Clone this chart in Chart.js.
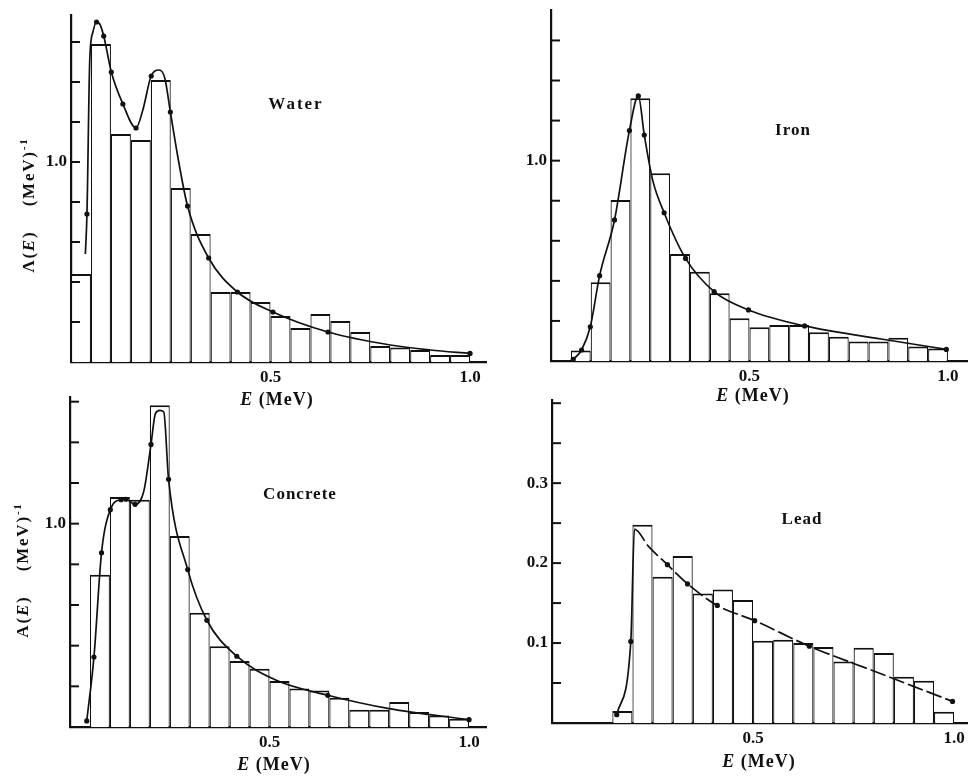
<!DOCTYPE html>
<html>
<head>
<meta charset="utf-8">
<script src="https://cdn.jsdelivr.net/npm/chart.js@4.4.0/dist/chart.umd.min.js"></script>
<style>
  html, body { margin: 0; padding: 0; background: #fff; }
  #page { position: relative; width: 971px; height: 776px; overflow: hidden; background: #fff; }
  canvas { position: absolute; }
  .lbl { position: absolute; font-family: "Liberation Serif", "DejaVu Serif", serif; font-weight: bold;
         color: #111; white-space: nowrap; transform: translate(-50%, -50%); }
  .name { font-size: 17px; letter-spacing: 1px; }
  .xt { font-size: 18px; letter-spacing: 1px; }
  .yt { font-size: 17px; letter-spacing: 1.8px; transform: translate(-50%, -50%) rotate(-90deg); }
  .yt sup { font-size: 11px; }
</style>
</head>
<body>
<div id="page">
  <canvas id="c-water" width="490" height="390" style="left:0;top:0"></canvas>
  <canvas id="c-iron" width="481" height="390" style="left:490px;top:0"></canvas>
  <canvas id="c-concrete" width="490" height="386" style="left:0;top:390px"></canvas>
  <canvas id="c-lead" width="481" height="386" style="left:490px;top:390px"></canvas>

  <div class="lbl name" style="left:296px;top:104px;letter-spacing:2px">Water</div>
  <div class="lbl name" style="left:793px;top:130px">Iron</div>
  <div class="lbl name" style="left:300px;top:494px">Concrete</div>
  <div class="lbl name" style="left:802px;top:519px">Lead</div>

  <div class="lbl xt" style="left:277px;top:399px"><i>E</i> (MeV)</div>
  <div class="lbl xt" style="left:753px;top:395px"><i>E</i> (MeV)</div>
  <div class="lbl xt" style="left:274px;top:764px"><i>E</i> (MeV)</div>
  <div class="lbl xt" style="left:759px;top:761px"><i>E</i> (MeV)</div>

  <div class="lbl yt" style="left:28px;top:205px">Λ(<i>E</i>)&nbsp;&nbsp;&nbsp;&nbsp;(MeV)<sup>-1</sup></div>
  <div class="lbl yt" style="left:22px;top:570px">A(<i>E</i>)&nbsp;&nbsp;&nbsp;&nbsp;(MeV)<sup>-1</sup></div>
</div>

<script>
const ink = "#111";

// 0.05 MeV bins
const binCentres = [0.025, 0.075, 0.125, 0.175, 0.225, 0.275, 0.325, 0.375, 0.425, 0.475,
                    0.525, 0.575, 0.625, 0.675, 0.725, 0.775, 0.825, 0.875, 0.925, 0.975];

// Water
const waterHist = [0.44, 1.59, 1.14, 1.11, 1.41, 0.87, 0.64, 0.35, 0.35, 0.30,
                   0.23, 0.17, 0.24, 0.205, 0.15, 0.08, 0.073, 0.06, 0.035, 0.035];
const waterCurveE = [0.036, 0.040, 0.047, 0.055, 0.064, 0.072, 0.082, 0.101, 0.130, 0.163, 0.180,
                     0.201, 0.221, 0.235, 0.249, 0.270, 0.292, 0.345, 0.417, 0.506, 0.644, 0.800, 0.900, 1.0];
const waterCurveA = [0.54, 0.74, 1.51, 1.65, 1.70, 1.69, 1.63, 1.45, 1.29, 1.17, 1.26,
                     1.43, 1.46, 1.42, 1.25, 1.00, 0.78, 0.52, 0.35, 0.25, 0.15, 0.085, 0.06, 0.043];
const waterDotE = [0.040, 0.064, 0.082, 0.101, 0.130, 0.163, 0.201, 0.249, 0.292, 0.345, 0.417, 0.506, 0.644, 1.0];
const waterDotA = [0.74, 1.70, 1.63, 1.45, 1.29, 1.17, 1.43, 1.25, 0.78, 0.52, 0.35, 0.25, 0.15, 0.043];

// Iron
const ironHist = [null, 0.052, 0.393, 0.804, 1.311, 0.937, 0.534, 0.446, 0.338, 0.213,
                  0.168, 0.180, 0.180, 0.143, 0.121, 0.097, 0.097, 0.116, 0.072, 0.063];
const ironCurveE = [0.052, 0.056, 0.077, 0.099, 0.1225, 0.160, 0.1975, 0.220, 0.235, 0.256,
                    0.285, 0.339, 0.411, 0.4975, 0.639, 0.8475, 0.996];
const ironCurveA = [0.0, 0.008, 0.055, 0.171, 0.426, 0.704, 1.15, 1.323, 1.128, 0.904,
                    0.74, 0.512, 0.346, 0.255, 0.175, 0.105, 0.058];
const ironDotE = [0.056, 0.077, 0.099, 0.1225, 0.160, 0.1975, 0.220, 0.235, 0.285, 0.339, 0.411, 0.4975, 0.639, 0.996];
const ironDotA = [0.008, 0.055, 0.171, 0.426, 0.704, 1.15, 1.323, 1.128, 0.74, 0.512, 0.346, 0.255, 0.175, 0.058];

// Concrete
const concreteHist = [null, 0.749, 1.131, 1.118, 1.582, 0.939, 0.562, 0.397, 0.325, 0.287,
                      0.226, 0.189, 0.180, 0.144, 0.085, 0.085, 0.123, 0.074, 0.057, 0.041];
const concreteCurveE = [0.042, 0.060, 0.079, 0.101, 0.128, 0.140, 0.163, 0.185, 0.203, 0.214, 0.225,
                        0.235, 0.247, 0.295, 0.343, 0.418, 0.517, 0.646, 0.800, 1.0];
const concreteCurveA = [0.030, 0.344, 0.857, 1.069, 1.118, 1.120, 1.095, 1.16, 1.39, 1.541, 1.557,
                        1.549, 1.218, 0.774, 0.525, 0.348, 0.230, 0.156, 0.09, 0.036];
const concreteDotE = [0.042, 0.060, 0.079, 0.101, 0.128, 0.140, 0.163, 0.203, 0.247, 0.295, 0.343, 0.418, 0.646, 1.0];
const concreteDotA = [0.030, 0.344, 0.857, 1.069, 1.118, 1.120, 1.095, 1.39, 1.218, 0.774, 0.525, 0.348, 0.156, 0.036];

// Lead
const leadHist = [null, null, null, 0.015, 0.248, 0.183, 0.209, 0.162, 0.167, 0.154,
                  0.103, 0.104, 0.100, 0.095, 0.077, 0.094, 0.0875, 0.058, 0.053, 0.014];
const leadCurveE = [0.161, 0.196, 0.205, 0.240, 0.287, 0.337, 0.411, 0.504, 0.640, 0.800, 0.996];
const leadCurveA = [0.0104, 0.102, 0.2425, 0.221, 0.198, 0.174, 0.147, 0.128, 0.096, 0.065, 0.027];
const leadDotE = [0.161, 0.196, 0.287, 0.337, 0.411, 0.504, 0.640, 0.996];
const leadDotA = [0.0104, 0.102, 0.198, 0.174, 0.147, 0.128, 0.096, 0.027];

// short tick marks on the inside of the y axis
const innerTicks = {
  id: "innerTicks",
  afterDraw(chart) {
    const { ctx, chartArea, scales: { y } } = chart;
    ctx.save();
    ctx.strokeStyle = ink;
    ctx.lineWidth = 2;
    y.ticks.forEach(t => {
      if (t.value <= 0) return;
      const py = y.getPixelForValue(t.value);
      ctx.beginPath();
      ctx.moveTo(chartArea.left, py);
      ctx.lineTo(chartArea.left + 9, py);
      ctx.stroke();
    });
    ctx.restore();
  }
};

const tickFont = { family: "'Liberation Serif', 'DejaVu Serif', serif", size: 17, weight: "bold" };

function drawPanel(canvasId, hist, curveE, curveA, dotE, dotA, frame) {
  const bars = binCentres.map((e, i) => ({ x: e, y: hist[i] })).filter(b => b.y !== null);
  const curve = curveE.map((e, i) => ({ x: e, y: curveA[i] }));
  const dots = dotE.map((e, i) => ({ x: e, y: dotA[i] }));
  const dash = frame.dash || [];

  new Chart(document.getElementById(canvasId), {
    type: "bar",
    data: {
      datasets: [
        { type: "scatter", data: dots, order: 0, pointRadius: 2.6, pointBackgroundColor: ink, pointBorderWidth: 0 },
        { type: "line", data: curve, order: 1, borderColor: ink, borderWidth: 1.7, pointRadius: 0,
          cubicInterpolationMode: "monotone",
          // the steep rising edge is solid, the falling tail may be dashed
          segment: { borderDash: c => (c.p1DataIndex <= (frame.solidTo || 0) ? [] : dash) } },
        { type: "bar", data: bars, order: 2, backgroundColor: "#fff", borderColor: ink,
          borderWidth: { top: 2, left: 1.2, right: 1.2, bottom: 0 }, inflateAmount: 0,
          barPercentage: 1, categoryPercentage: 1 }
      ]
    },
    options: {
      responsive: false,
      animation: false,
      events: [],
      layout: { padding: frame.pad },
      plugins: { legend: { display: false }, tooltip: { enabled: false } },
      scales: {
        x: {
          type: "linear", min: 0, max: frame.xMax, offset: false,
          grid: { display: false, drawTicks: false, offset: false },
          border: { display: true, color: ink, width: 2.2 },
          ticks: {
            stepSize: 0.5, includeBounds: false, padding: 5, color: ink, font: tickFont,
            maxRotation: 0, autoSkip: false,
            callback: v => (v > 0 ? v.toFixed(1) : "")
          },
          afterFit: s => { s.height = frame.xH; s.paddingLeft = 0; s.paddingRight = 0; }
        },
        y: {
          type: "linear", min: 0, max: frame.yMax,
          grid: { display: false, drawTicks: false },
          border: { display: true, color: ink, width: 2.2 },
          ticks: {
            stepSize: frame.yStep, includeBounds: false, padding: 4, color: ink, font: tickFont,
            autoSkip: false,
            callback: v => (frame.yLabels.some(l => Math.abs(l - v) < 1e-6) ? v.toFixed(1) : "")
          },
          afterFit: s => { s.width = frame.yW; s.paddingTop = 0; s.paddingBottom = 0; }
        }
      }
    },
    plugins: [innerTicks]
  });
}

drawPanel("c-water", waterHist, waterCurveE, waterCurveA, waterDotE, waterDotA,
  { pad: { left: 0, top: 15, right: 3, bottom: 0 }, yW: 71, xH: 28, xMax: 1.04, yMax: 1.735, yStep: 0.2, yLabels: [1.0] });
drawPanel("c-iron", ironHist, ironCurveE, ironCurveA, ironDotE, ironDotA,
  { pad: { left: 0, top: 10, right: 3, bottom: 0 }, yW: 61, xH: 29, xMax: 1.048, yMax: 1.752, yStep: 0.2, yLabels: [1.0] });
drawPanel("c-concrete", concreteHist, concreteCurveE, concreteCurveA, concreteDotE, concreteDotA,
  { pad: { left: 0, top: 7, right: 3, bottom: 0 }, yW: 70, xH: 49, xMax: 1.0425, yMax: 1.623, yStep: 0.2, yLabels: [1.0] });
drawPanel("c-lead", leadHist, leadCurveE, leadCurveA, leadDotE, leadDotA,
  { pad: { left: 0, top: 10, right: 3, bottom: 0 }, yW: 62, xH: 53, xMax: 1.032, yMax: 0.404, yStep: 0.05,
    yLabels: [0.1, 0.2, 0.3], dash: [16, 4], solidTo: 2 });
</script>
</body>
</html>
